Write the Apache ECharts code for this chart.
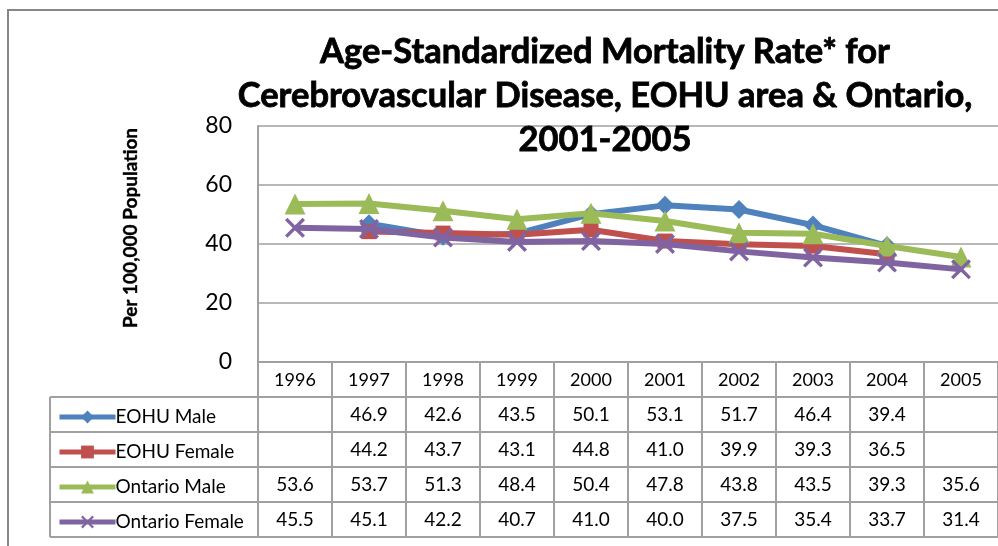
<!DOCTYPE html>
<html>
<head>
<meta charset="utf-8">
<script src="https://cdn.jsdelivr.net/npm/echarts@6/dist/echarts.min.js"></script>
<style>
  html, body { margin: 0; padding: 0; background: #fff; }
  #chart { width: 998px; height: 546px; }
</style>
</head>
<body>
<div id="chart"></div>
<script>
  // data
  var years = ['1996', '1997', '1998', '1999', '2000', '2001', '2002', '2003', '2004', '2005'];
  var eohuMale = [null, 46.9, 42.6, 43.5, 50.1, 53.1, 51.7, 46.4, 39.4, null];
  var eohuFemale = [null, 44.2, 43.7, 43.1, 44.8, 41.0, 39.9, 39.3, 36.5, null];
  var ontarioMale = [53.6, 53.7, 51.3, 48.4, 50.4, 47.8, 43.8, 43.5, 39.3, 35.6];
  var ontarioFemale = [45.5, 45.1, 42.2, 40.7, 41.0, 40.0, 37.5, 35.4, 33.7, 31.4];
  var yTicks = [0, 20, 40, 60, 80];

  var seriesNames = ['EOHU Male', 'EOHU Female', 'Ontario Male', 'Ontario Female'];
  var seriesData = [eohuMale, eohuFemale, ontarioMale, ontarioFemale];
  var colors = ['#4F81BD', '#C0504D', '#9BBB59', '#8064A2'];
  var symbols = [
    'diamond',
    'rect',
    'triangle',
    'path://M0,1.2L1.2,0L5,3.8L8.8,0L10,1.2L6.2,5L10,8.8L8.8,10L5,6.2L1.2,10L0,8.8L3.8,5Z'
  ];
  var symbolSizes = [19, 15, 21, 20];

  var font = 'Lato';
  var gridColor = '#A0A0A0';
  var plotTop = 126, plotBottom = 362, plotLeft = 258, plotWidth = 749;
  var rowH = 35;
  var legendLeft = 50;

  var myChart = echarts.init(document.getElementById('chart'));

  var series = seriesNames.map(function (name, i) {
    return {
      name: name,
      type: 'line',
      data: seriesData[i],
      symbol: symbols[i],
      symbolSize: symbolSizes[i],
      showAllSymbol: true,
      lineStyle: { color: colors[i], width: 6 },
      itemStyle: { color: colors[i] },
      emphasis: { disabled: true },
      z: 3 + i
    };
  });

  // one legend for every table row
  var legends = seriesNames.map(function (name, i) {
    return {
      data: [name],
      left: 52,
      top: plotBottom + rowH * (i + 1) + rowH / 2 - 12,
      itemWidth: 56,
      itemHeight: 16,
      selectedMode: false,
      lineStyle: { width: 5 },
      textStyle: { fontFamily: font, fontSize: 19, color: '#000', padding: [0, 0, 0, -5] }
    };
  });

  myChart.setOption({
    animation: false,
    title: {
      text: 'Age-Standardized Mortality Rate* for\nCerebrovascular Disease, EOHU area & Ontario,\n2001-2005',
      left: 600,
      textAlign: 'center',
      top: 25,
      textStyle: {
        fontFamily: font, fontSize: 34.5, fontWeight: 'bold', color: '#000', lineHeight: 44,
        textBorderColor: '#000', textBorderWidth: 0.8
      }
    },
    legend: legends,
    grid: { left: plotLeft, top: plotTop, width: plotWidth, height: plotBottom - plotTop, containLabel: false },
    xAxis: {
      type: 'category',
      data: years,
      boundaryGap: true,
      axisLine: { show: true, lineStyle: { color: gridColor, width: 2 } },
      axisTick: { show: false },
      axisLabel: { margin: 9, fontFamily: font, fontSize: 18, color: '#000' }
    },
    yAxis: {
      type: 'value',
      min: yTicks[0],
      max: yTicks[yTicks.length - 1],
      interval: 20,
      axisLine: { show: true, lineStyle: { color: gridColor, width: 2 } },
      axisTick: { show: false },
      axisLabel: { margin: 26, fontFamily: font, fontSize: 23, color: '#000' },
      splitLine: { show: true, lineStyle: { color: gridColor, width: 1.5 } }
    },
    series: series
  });

  // data table under the plot, positioned from the category axis
  function buildTable() {
    var elements = [];
    var half = myChart.convertToPixel({ xAxisIndex: 0 }, 1) - myChart.convertToPixel({ xAxisIndex: 0 }, 0);
    half = half / 2;
    var centers = years.map(function (y, i) { return myChart.convertToPixel({ xAxisIndex: 0 }, i); });
    var tableRight = centers[centers.length - 1] + half;
    var lineStyle = { stroke: gridColor, lineWidth: 2 };

    // outer chart border
    elements.push({ type: 'rect', shape: { x: 8, y: 10, width: 1100, height: 600 }, style: { fill: null, stroke: '#878787', lineWidth: 2 }, silent: true });

    // horizontal lines
    for (var r = 1; r <= 5; r++) {
      var y = plotBottom + r * rowH;
      elements.push({ type: 'line', shape: { x1: legendLeft, y1: y, x2: tableRight, y2: y }, style: lineStyle, silent: true });
    }
    // legend column left edge
    elements.push({ type: 'line', shape: { x1: legendLeft, y1: plotBottom + rowH, x2: legendLeft, y2: plotBottom + 5 * rowH }, style: lineStyle, silent: true });
    // column separators
    for (var c = 0; c <= years.length; c++) {
      var x = plotLeft + c * half * 2;
      elements.push({ type: 'line', shape: { x1: x, y1: plotBottom, x2: x, y2: plotBottom + 5 * rowH }, style: lineStyle, silent: true });
    }
    // values
    seriesData.forEach(function (arr, s) {
      arr.forEach(function (v, i) {
        if (v === null) return;
        elements.push({
          type: 'text',
          x: centers[i],
          y: plotBottom + rowH * (s + 1) + rowH / 2,
          style: { text: v.toFixed(1), fontFamily: font, fontSize: 19, fill: '#000', align: 'center', verticalAlign: 'middle' },
          silent: true
        });
      });
    });
    // y axis title
    elements.push({
      type: 'text',
      x: 131,
      y: 228,
      rotation: Math.PI / 2,
      style: {
        text: 'Per 100,000 Population', fontFamily: font, fontSize: 19, fontWeight: 'bold', fill: '#000',
        align: 'center', verticalAlign: 'middle', stroke: '#000', lineWidth: 0.4
      },
      silent: true
    });
    myChart.setOption({ graphic: { elements: elements } });
  }
  buildTable();
</script>
</body>
</html>
